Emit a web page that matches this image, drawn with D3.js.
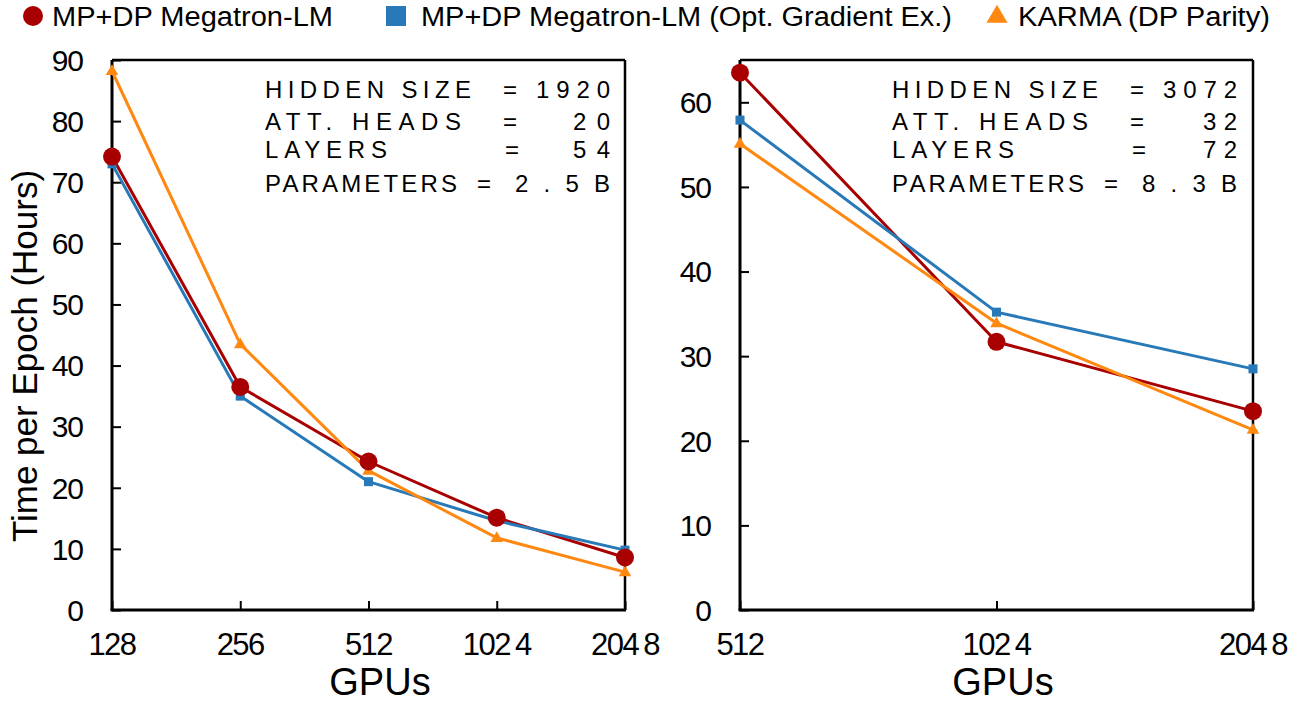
<!DOCTYPE html>
<html>
<head>
<meta charset="utf-8">
<script src="https://cdn.jsdelivr.net/npm/d3@7"></script>
<style>
  html, body { margin: 0; padding: 0; background: #fff; }
  svg { display: block; }
  text { font-family: "Liberation Sans", Arial, sans-serif; fill: #000; }
</style>
</head>
<body>
<svg id="chart" width="1300" height="706"></svg>
<script>
// ---------------- DATA ----------------
const gpusLeft = [128, 256, 512, 1024, 2048];
const gpusRight = [512, 1024, 2048];

const leftMegatron = [74.2, 36.5, 24.3, 15.1, 8.6];
const leftOptGrad  = [73.0, 35.0, 21.0, 14.6, 9.8];
const leftKarma    = [88.2, 43.5, 22.8, 11.8, 6.2];

const rightMegatron = [63.5, 31.7, 23.5];
const rightOptGrad  = [57.9, 35.2, 28.5];
const rightKarma    = [55.1, 33.9, 21.3];

const yTicksLeft  = [0, 10, 20, 30, 40, 50, 60, 70, 80, 90];
const yTicksRight = [0, 10, 20, 30, 40, 50, 60];

const seriesNames = ["MP+DP Megatron-LM", "MP+DP Megatron-LM (Opt. Gradient Ex.)", "KARMA (DP Parity)"];
const seriesColors = ["#a80000", "#2779b8", "#ff8810"];
const seriesMarkers = ["circle", "square", "triangle"];

const annotLabels = ["HIDDEN SIZE", "ATT. HEADS", "LAYERS", "PARAMETERS"];
const annotLeftValues  = ["1920", "20", "54", "2.5B"];
const annotRightValues = ["3072", "32", "72", "8.3B"];

const xAxisTitle = "GPUs";
const yAxisTitle = "Time per Epoch (Hours)";

// ---------------- DRAW ----------------
const svg = d3.select("#chart");

function marker(g, type, x, y, color, s) {
  if (type === "circle") {
    g.append("circle").attr("cx", x).attr("cy", y).attr("r", s).attr("fill", color);
  } else if (type === "square") {
    g.append("rect").attr("x", x - s).attr("y", y - s).attr("width", 2 * s).attr("height", 2 * s).attr("fill", color);
  } else {
    const h = s * 1.8;
    g.append("path")
      .attr("d", `M${x},${y - h * 0.62} L${x + s * 1.05},${y + h * 0.38} L${x - s * 1.05},${y + h * 0.38} Z`)
      .attr("fill", color);
  }
}

function tickLabel(sel, v) {
  const s = String(v);
  if (s.length === 4) {
    sel.text(null);
    sel.append("tspan").text(s.slice(0, 3));
    sel.append("tspan").attr("dx", 5).text(s.slice(3));
  } else {
    sel.text(s);
  }
}

function panel(opts) {
  const { x0, x1, y0, y1, gpus, yMax, yTicks, values, yLabelX, gpuTitleX, annotX } = opts;
  const g = svg.append("g");
  const x = d3.scaleLog().base(2).domain([gpus[0], gpus[gpus.length - 1]]).range([x0, x1]);
  const y = d3.scaleLinear().domain([0, yMax]).range([y1, y0]);

  // frame
  g.append("line").attr("x1", x0).attr("x2", x1).attr("y1", y0).attr("y2", y0).attr("stroke", "#000").attr("stroke-width", 2.5);
  g.append("line").attr("x1", x1).attr("x2", x1).attr("y1", y0).attr("y2", y1).attr("stroke", "#000").attr("stroke-width", 2.5);

  // y axis
  const yAxis = d3.axisRight(y).tickValues(yTicks).tickSize(9).tickFormat("");
  const ya = g.append("g").attr("transform", `translate(${x0},0)`).call(yAxis);
  ya.select(".domain").attr("stroke", "#000").attr("stroke-width", 3).attr("d", `M0,${y0}V${y1}`);
  ya.selectAll(".tick line").attr("stroke", "#000").attr("stroke-width", 2);
  g.append("g").selectAll("text").data(yTicks).join("text")
    .attr("x", yLabelX).attr("y", d => y(d)).attr("dy", "0.36em")
    .attr("text-anchor", "end").attr("font-size", 30).attr("letter-spacing", -1)
    .text(d => d);

  // x axis
  const xAxis = d3.axisTop(x).tickValues(gpus).tickSize(9).tickFormat("");
  const xa = g.append("g").attr("transform", `translate(0,${y1})`).call(xAxis);
  xa.select(".domain").attr("stroke", "#000").attr("stroke-width", 3).attr("d", `M${x0 - 1.5},0H${x1 + 1}`);
  xa.selectAll(".tick line").attr("stroke", "#000").attr("stroke-width", 2);
  g.append("g").selectAll("text").data(gpus).join("text")
    .attr("x", d => x(d)).attr("y", 655)
    .attr("text-anchor", "middle").attr("font-size", 31).attr("letter-spacing", -1.5)
    .each(function (d) { tickLabel(d3.select(this), d); });

  g.append("text").attr("x", gpuTitleX).attr("y", 695).attr("text-anchor", "middle")
    .attr("font-size", 38).text(xAxisTitle);

  // lines
  const line = d3.line().x((d, i) => x(gpus[i])).y(d => y(d));
  values.forEach((vals, si) => {
    g.append("path").datum(vals).attr("d", line).attr("fill", "none")
      .attr("stroke", seriesColors[si]).attr("stroke-width", 3).attr("stroke-linejoin", "round");
  });
  const sizes = [9, 4.5, 6];
  [1, 2, 0].forEach(si => {
    values[si].forEach((v, i) => marker(g, seriesMarkers[si], x(gpus[i]), y(v), seriesColors[si], sizes[si]));
  });

  // annotation
  const a = annotX;
  const fs = 24;
  const baselines = [98, 130, 158, 192];
  const labelLens = [206, 196, 122, 192];
  const eqX = [510, 510, 512, 484];
  const valEnd = 610;
  const valLens = opts.valLens;
  annotLabels.forEach((lab, i) => {
    g.append("text").attr("x", a + 265).attr("y", baselines[i]).attr("font-size", fs)
      .attr("textLength", labelLens[i]).attr("lengthAdjust", "spacing").text(lab);
    g.append("text").attr("x", a + eqX[i]).attr("y", baselines[i]).attr("font-size", fs)
      .attr("text-anchor", "middle").text("=");
    g.append("text").attr("x", a + valEnd - valLens[i]).attr("y", baselines[i]).attr("font-size", fs)
      .attr("textLength", valLens[i]).attr("lengthAdjust", "spacing").text(opts.annotValues[i]);
  });
}

panel({
  x0: 112, x1: 625, y0: 60, y1: 610, gpus: gpusLeft, yMax: 90, yTicks: yTicksLeft,
  values: [leftMegatron, leftOptGrad, leftKarma], yLabelX: 83, gpuTitleX: 380,
  annotX: 0, annotValues: annotLeftValues, valLens: [74, 37, 37, 95]
});
panel({
  x0: 740, x1: 1253, y0: 60, y1: 610, gpus: gpusRight, yMax: 65, yTicks: yTicksRight,
  values: [rightMegatron, rightOptGrad, rightKarma], yLabelX: 711, gpuTitleX: 1003,
  annotX: 627, annotValues: annotRightValues, valLens: [74, 34, 34, 95]
});

// y axis title
svg.append("text").attr("transform", "translate(37,356) rotate(-90)")
  .attr("text-anchor", "middle").attr("font-size", 35).text(yAxisTitle);

// legend
const legX = [33, 396, 997];
const legTextX = [52, 421, 1018];
const legTextLen = [281, 531, 252];
const leg = svg.append("g");
seriesNames.forEach((n, i) => {
  marker(leg, seriesMarkers[i], legX[i], 16, seriesColors[i], 10);
  leg.append("text").attr("x", legTextX[i]).attr("y", 26).attr("font-size", 27)
    .attr("textLength", legTextLen[i]).attr("lengthAdjust", "spacingAndGlyphs").text(n);
});
</script>
</body>
</html>
